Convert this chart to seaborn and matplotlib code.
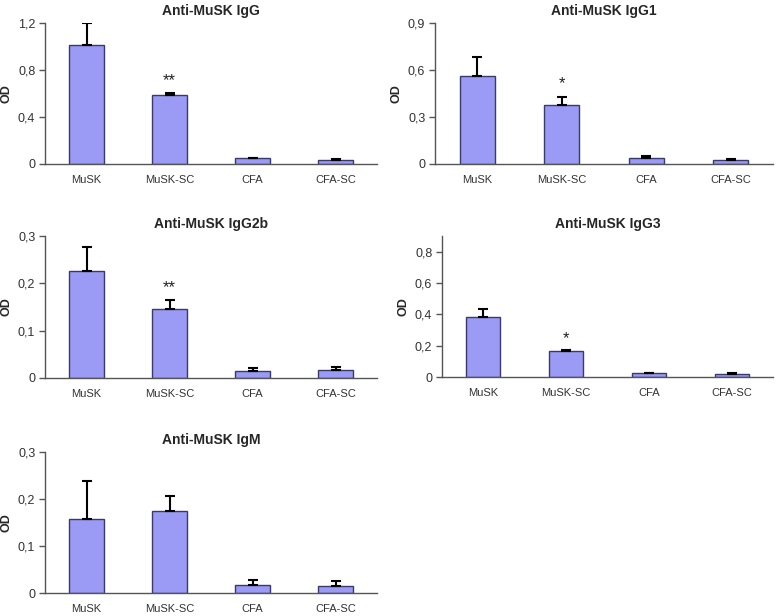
import matplotlib
matplotlib.use("Agg")
import matplotlib.pyplot as plt
import seaborn as sns
import pandas as pd
from matplotlib.ticker import FuncFormatter

sns.set_theme(style="white")
plt.rcParams['font.family'] = ['Liberation Sans', 'DejaVu Sans']

categories = ["MuSK", "MuSK-SC", "CFA", "CFA-SC"]

titles = ["Anti-MuSK IgG", "Anti-MuSK IgG1", "Anti-MuSK IgG2b", "Anti-MuSK IgG3", "Anti-MuSK IgM"]

igg_vals = [1.01, 0.583, 0.048, 0.035]
igg_err = [0.19, 0.02, 0.006, 0.008]
igg1_vals = [0.56, 0.375, 0.038, 0.025]
igg1_err = [0.12, 0.055, 0.012, 0.005]
igg2b_vals = [0.227, 0.146, 0.014, 0.0175]
igg2b_err = [0.05, 0.018, 0.007, 0.0065]
igg3_vals = [0.386, 0.163, 0.023, 0.022]
igg3_err = [0.045, 0.01, 0.005, 0.005]
igm_vals = [0.158, 0.175, 0.017, 0.015]
igm_err = [0.081, 0.031, 0.011, 0.01]

values = [igg_vals, igg1_vals, igg2b_vals, igg3_vals, igm_vals]
errors = [igg_err, igg1_err, igg2b_err, igg3_err, igm_err]

ymax = [1.2, 0.9, 0.3, 0.9, 0.3]
yticks = [[0, 0.4, 0.8, 1.2], [0, 0.3, 0.6, 0.9], [0, 0.1, 0.2, 0.3],
          [0, 0.2, 0.4, 0.6, 0.8], [0, 0.1, 0.2, 0.3]]

stars = ["**", "*", "**", "*", ""]
star_y = [0.71, 0.51, 0.19, 0.245, 0]

W, H = 778, 616
# axes rectangles in pixels: left, top, right, bottom
rects = [(45, 23, 377, 164), (435, 23, 773, 164),
         (45, 236, 377, 378), (442, 236, 773, 377),
         (45, 452, 377, 593)]

fig = plt.figure(figsize=(W / 100, H / 100), dpi=100)

bar_color = "#9b9bf5"
edge_color = "#3a3a6a"
axis_color = "#555555"

def fmt(v, pos):
    if abs(v) < 1e-9:
        return "0"
    s = f"{v:.1f}"
    return s.replace(".", ",")

for i in range(5):
    l, t, r, b = rects[i]
    ax = fig.add_axes([l / W, 1 - b / H, (r - l) / W, (b - t) / H])
    df = pd.DataFrame({"group": categories, "od": values[i]})
    sns.barplot(data=df, x="group", y="od", order=categories, color=bar_color,
                edgecolor=edge_color, linewidth=1.0, width=0.41, saturation=1,
                errorbar=None, ax=ax)
    xs = [p.get_x() + p.get_width() / 2 for p in ax.patches]
    hs = [p.get_height() for p in ax.patches]
    ax.errorbar(xs, hs, yerr=[[0] * 4, errors[i]], fmt="none", ecolor="black",
                elinewidth=1.5, capsize=3.5, capthick=1.5, zorder=3)
    if stars[i]:
        ax.text(xs[1], star_y[i], stars[i], ha="center", va="center",
                fontsize=12, color="#222222")
    ax.set_xlim(-0.5, 3.5)
    ax.set_ylim(0, ymax[i])
    ax.set_yticks(yticks[i])
    ax.yaxis.set_major_formatter(FuncFormatter(fmt))
    ax.set_xlabel("")
    ax.set_ylabel("OD", fontsize=9, fontweight="bold", labelpad=4)
    ax.set_title(titles[i], fontsize=10, fontweight="bold", pad=6)
    for side in ["top", "right"]:
        ax.spines[side].set_visible(False)
    for side in ["left", "bottom"]:
        ax.spines[side].set_color(axis_color)
        ax.spines[side].set_linewidth(1.0)
    ax.tick_params(axis="y", left=True, length=4, width=1, color=axis_color,
                   labelsize=9, labelcolor="#333333", pad=3)
    ax.tick_params(axis="x", bottom=False, labelsize=8, labelcolor="#333333", pad=2)
    ax.set_facecolor("white")

fig.savefig("out.png", dpi=100, facecolor="white")
